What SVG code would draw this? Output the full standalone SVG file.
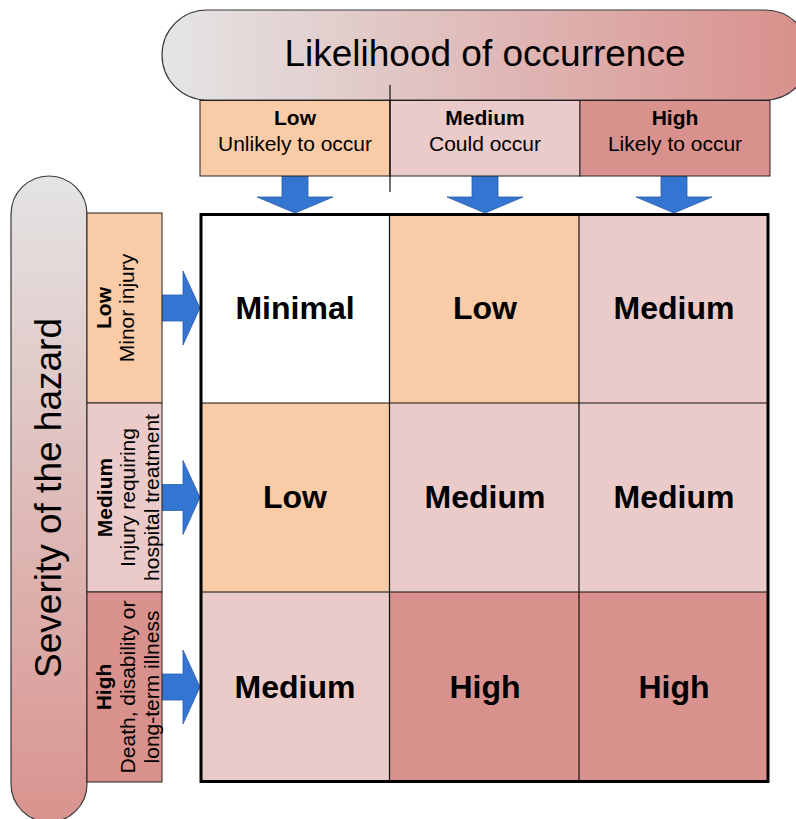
<svg xmlns="http://www.w3.org/2000/svg" width="796" height="819" viewBox="0 0 796 819">
<defs>
<linearGradient id="gTop" x1="0" y1="0" x2="1" y2="0">
<stop offset="0" stop-color="#E5E5E5"/>
<stop offset="1" stop-color="#D98F8B"/>
</linearGradient>
<linearGradient id="gLeft" x1="0" y1="0" x2="0" y2="1">
<stop offset="0" stop-color="#E4E4E4"/>
<stop offset="1" stop-color="#D9938E"/>
</linearGradient>
</defs>
<style>
text{font-family:"Liberation Sans",Arial,sans-serif;fill:#000}
.pill{stroke:#3a3a3a;stroke-width:1.2}
.box{stroke:#222;stroke-width:1}
.low{fill:#F9CBA7}
.med{fill:#EBCBCA}
.high{fill:#D9918D}
.min{fill:#FFFFFF}
.arrow{fill:#3575D2;stroke:#2A5DA8;stroke-width:0.8}
.title{font-size:37px;text-anchor:middle}
.hb{font-size:21px;font-weight:bold;text-anchor:middle}
.hr{font-size:21px;text-anchor:middle}
.cell{font-size:32px;font-weight:bold;text-anchor:middle}
.grid{stroke:#111;stroke-width:1.2;fill:none}
</style>
<rect width="796" height="819" fill="#FFFFFF"/>

<g id="likelihood-title">
<rect class="pill" x="162" y="10" width="648" height="90" rx="45" ry="45" fill="url(#gTop)"/>
<text class="title" x="485" y="66">Likelihood of occurrence</text>
</g>

<g id="severity-title">
<rect class="pill" x="11" y="176" width="76" height="646" rx="38" ry="38" fill="url(#gLeft)"/>
<text class="title" transform="translate(61,498) rotate(-90)">Severity of the hazard</text>
</g>

<g id="connectors">
<polygon class="arrow" points="282,176 308,176 308,197 333,197 295,213 257,197 282,197"/>
<polygon class="arrow" points="472,176 498,176 498,197 523,197 485,213 447,197 472,197"/>
<polygon class="arrow" points="661,176 687,176 687,197 712,197 674,213 636,197 661,197"/>
<polygon class="arrow" points="162,295 183,295 183,271 200,308 183,345 183,321 162,321"/>
<polygon class="arrow" points="162,484.5 183,484.5 183,460.5 200,497.5 183,534.5 183,510.5 162,510.5"/>
<polygon class="arrow" points="162,674 183,674 183,650 200,687 183,724 183,700 162,700"/>
</g>

<g id="col-low">
<rect class="box low" x="200" y="100.5" width="190" height="75.5"/>
<text class="hb" x="295" y="125">Low</text>
<text class="hr" x="295" y="151">Unlikely to occur</text>
</g>
<g id="col-medium">
<rect class="box med" x="390" y="100.5" width="190" height="75.5"/>
<text class="hb" x="485" y="125">Medium</text>
<text class="hr" x="485" y="151">Could occur</text>
</g>
<g id="col-high">
<rect class="box high" x="580" y="100.5" width="190" height="75.5"/>
<text class="hb" x="675" y="125">High</text>
<text class="hr" x="675" y="151">Likely to occur</text>
</g>
<line x1="390" y1="85" x2="390" y2="192" stroke="#111" stroke-width="1.2"/>

<g id="row-low">
<rect class="box low" x="87" y="213" width="75" height="190"/>
<text class="hb" transform="translate(111,308) rotate(-90)">Low</text>
<text class="hr" transform="translate(134,308) rotate(-90)">Minor injury</text>
</g>
<g id="row-medium">
<rect class="box med" x="87" y="403" width="75" height="189"/>
<text class="hb" transform="translate(112,497.5) rotate(-90)">Medium</text>
<text class="hr" transform="translate(135,497.5) rotate(-90)">Injury requiring</text>
<text class="hr" transform="translate(159,497.5) rotate(-90)">hospital treatment</text>
</g>
<g id="row-high">
<rect class="box high" x="87" y="592" width="75" height="190"/>
<text class="hb" transform="translate(111,687) rotate(-90)">High</text>
<text class="hr" transform="translate(135,687) rotate(-90)">Death, disability or</text>
<text class="hr" transform="translate(159,687) rotate(-90)">long-term illness</text>
</g>

<g id="matrix">
<rect class="min" x="201" y="214" width="189" height="189"/>
<rect class="low" x="390" y="214" width="189" height="189"/>
<rect class="med" x="579" y="214" width="189" height="189"/>
<rect class="low" x="201" y="403" width="189" height="189"/>
<rect class="med" x="390" y="403" width="189" height="189"/>
<rect class="med" x="579" y="403" width="189" height="189"/>
<rect class="med" x="201" y="592" width="189" height="189"/>
<rect class="high" x="390" y="592" width="189" height="189"/>
<rect class="high" x="579" y="592" width="189" height="189"/>
<line class="grid" x1="389.5" y1="214" x2="389.5" y2="781"/>
<line class="grid" x1="579" y1="214" x2="579" y2="781"/>
<line class="grid" x1="201" y1="403" x2="768" y2="403"/>
<line class="grid" x1="201" y1="592" x2="768" y2="592"/>
<rect x="201" y="214.5" width="567" height="567" fill="none" stroke="#000" stroke-width="3"/>
</g>

<g id="cell-1-1"><text class="cell" x="295" y="319">Minimal</text></g>
<g id="cell-1-2"><text class="cell" x="485" y="319">Low</text></g>
<g id="cell-1-3"><text class="cell" x="674" y="319">Medium</text></g>
<g id="cell-2-1"><text class="cell" x="295" y="508">Low</text></g>
<g id="cell-2-2"><text class="cell" x="485" y="508">Medium</text></g>
<g id="cell-2-3"><text class="cell" x="674" y="508">Medium</text></g>
<g id="cell-3-1"><text class="cell" x="295" y="698">Medium</text></g>
<g id="cell-3-2"><text class="cell" x="485" y="698">High</text></g>
<g id="cell-3-3"><text class="cell" x="674" y="698">High</text></g>
</svg>
